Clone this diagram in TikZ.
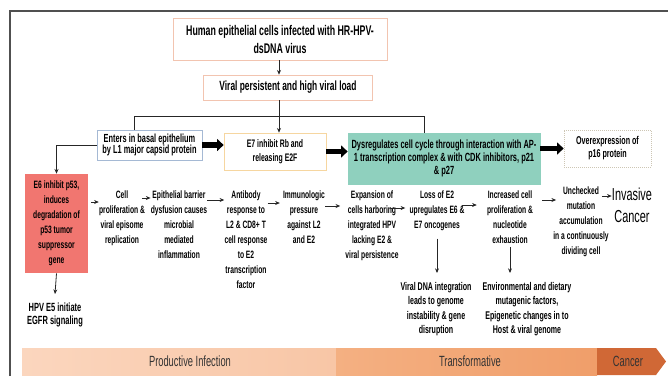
\documentclass[tikz,border=0pt]{standalone}
\usepackage{fontspec}
\setmainfont{Liberation Sans}[FakeStretch=0.63]
\usetikzlibrary{arrows.meta,calc}

\newcommand{\fs}[2]{\fontsize{#1}{#2}\selectfont}

\definecolor{humline}{RGB}{242,196,176}
\definecolor{entline}{RGB}{165,185,212}
\definecolor{eseline}{RGB}{246,214,160}
\definecolor{dysfill}{RGB}{143,208,190}
\definecolor{psline}{RGB}{205,198,180}
\definecolor{esfill}{RGB}{241,118,112}
\definecolor{prodfill}{RGB}{248,198,166}
\definecolor{prodlight}{RGB}{251,214,190}
\definecolor{tranfill}{RGB}{240,158,106}
\definecolor{tranlight}{RGB}{244,176,130}
\definecolor{cancfill}{RGB}{208,104,54}
\definecolor{framecol}{RGB}{80,80,80}

\tikzset{
	box/.style={draw, line width=0.5pt, align=center, inner sep=1pt, text=black},
	flow/.style={anchor=north, align=center, inner sep=0pt, font=\bfseries\fs{8}{11.25}},
	note/.style={anchor=north, align=center, inner sep=0pt, font=\bfseries\fs{8.4}{10.75}},
	thin arrow/.style={draw=black!85, line width=0.6pt, -{Stealth[length=3.5pt,width=3pt]}},
	fat arrow/.style={line width=4pt, -{Triangle[length=5pt,width=9pt]}},
	barlabel/.style={inner sep=0pt, font=\fs{11.1}{13}, text=black!80},
}

\begin{document}
\begin{tikzpicture}[x=0.75pt,y=0.75pt,yscale=-1,xscale=1]
	\useasboundingbox (0,0) rectangle (668,376);
	
	%Frame
	\draw [framecol, line width=1.1pt] (10,376) -- (10,11) -- (668,11) ;
	
	% Text Node
	\draw (280,39) node (hum) [box, draw=humline, minimum width=160.5pt, minimum height=31.5pt, font=\bfseries\fs{10.5}{13.5}] {Human epithelial cells infected with HR-HPV-\\dsDNA virus};
	% Text Node
	\draw (288,87.5) node (vir) [box, draw=humline, minimum width=126.75pt, minimum height=18.75pt, font=\bfseries\fs{10}{11}] {Viral persistent and high viral load};
	% Text Node
	\draw (149.5,145) node (ent) [box, draw=entline, minimum width=78.75pt, minimum height=22.5pt, font=\bfseries\fs{8.8}{8.5}] {Enters in basal epithelium\\by L1 major capsid protein};
	% Text Node
	\draw (275,151.5) node (ese) [box, draw=eseline, minimum width=76.5pt, minimum height=27.75pt, font=\bfseries\fs{8.2}{10.5}] {E7 inhibit Rb and\\releasing E2F};
	% Text Node
	\draw (444,158.5) node (dys) [box, draw=dysfill, fill=dysfill, minimum width=144pt, minimum height=38.25pt, font=\bfseries\fs{8.9}{9.75}] {Dysregulates cell cycle through interaction with AP-\\1 transcription complex \& with CDK inhibitors, p21\\\& p27};
	% Text Node
	\draw (607.5,148.5) node (psx) [box, draw=psline, densely dotted, minimum width=65.25pt, minimum height=27.75pt, font=\bfseries\fs{8.5}{9.75}] {Overexpression of\\p16 protein};
	% Text Node
	\draw (56.5,223.5) node (esx) [box, draw=none, fill=esfill, minimum width=47.25pt, minimum height=74.25pt, font=\bfseries\fs{8}{11.25}] {E6 inhibit p53,\\induces\\degradation of\\p53 tumor\\suppressor\\gene};
	% Text Node
	\draw (55,303) node (efv) [note, font=\bfseries\fs{8.9}{9.75}] {HPV E5 initiate\\EGFR signaling};
	
	% Text Node
	\draw (122,190) node (fa) [flow] {Cell\\proliferation \&\\viral episome\\replication};
	% Text Node
	\draw (179,190) node (fb) [flow] {Epithelial barrier\\dysfusion causes\\microbial\\mediated\\inflammation};
	% Text Node
	\draw (246,190) node (fc) [flow] {Antibody\\response to\\L2 \& CD8+ T\\cell response\\to E2\\transcription\\factor};
	% Text Node
	\draw (304,190) node (fd) [flow] {Immunologic\\pressure\\against L2\\and E2};
	% Text Node
	\draw (372,190) node (fe) [flow] {Expansion of\\cells harboring\\integrated HPV\\lacking E2 \&\\viral persistence};
	% Text Node
	\draw (437,190) node (ff) [flow] {Loss of E2\\upregulates E6 \&\\E7 oncogenes};
	% Text Node
	\draw (510,190) node (fg) [flow] {Increased cell\\proliferation \&\\nucleotide\\exhaustion};
	% Text Node
	\draw (581,186) node (fh) [flow] {Unchecked\\mutation\\accumulation\\in a continuously\\dividing cell};
	% Text Node
	\draw (632,188) node (inv) [anchor=north, align=center, inner sep=0pt, font=\fs{13}{16.5}] {Invasive\\Cancer};
	% Text Node
	\draw (436,282) node (vdi) [note] {Viral DNA integration\\leads to genome\\instability \& gene\\disruption};
	% Text Node
	\draw (527,282) node (env) [note] {Environmental and dietary\\mutagenic factors,\\Epigenetic changes in to\\Host \& viral genome};
	
	%Branch lines
	\coordinate (split) at (279,116);
	\coordinate (ldrop) at (134,116);
	\coordinate (rdrop) at (424,116);
	\draw [thin arrow] (hum.south -| split) -- (vir.north -| split) ;
	\draw [draw=black!85, line width=0.6pt] (vir.south -| split) -- (split) ;
	\draw [draw=black!85, line width=0.6pt] (ldrop |- ent.north) -- (ldrop) -- (rdrop) -- (rdrop |- dys.north) ;
	\draw [thin arrow] (split) -- (split |- ese.north) ;
	
	%Fat arrows
	\draw [fat arrow] (ent.east) -- (ent.east -| ese.west) ;
	\draw [fat arrow] (ese.east) -- (ese.east -| dys.west) ;
	\draw [fat arrow] (dys.east |- psx.west) -- (psx.west) ;
	
	%Side branch
	\draw [thin arrow] (ent.west) -| (esx.north) ;
	\draw [thin arrow] (esx.south) -- ($(efv.north)+(0,-9)$) ;
	
	%Flow arrows
	\coordinate (ra) at (0,202);
	\coordinate (rb) at (0,198);
	\coordinate (rc) at (0,200);
	\coordinate (rd) at (0,203);
	\coordinate (re) at (0,206);
	\coordinate (rf) at (0,208);
	\coordinate (rg) at (0,205);
	\coordinate (rh) at (0,200);
	\coordinate (ri) at (0,196);
	\draw [thin arrow] ($(esx.east |- ra)+(3,0)$) -- (fa.west |- ra) ;
	\draw [thin arrow] ($(fa.east |- rb)+(-3,0)$) -- (fb.west |- rb) ;
	\draw [thin arrow] (fb.east |- rc) -- (fc.west |- rc) ;
	\draw [thin arrow] (fc.east |- rd) -- ($(fd.west |- rd)+(-3,0)$) ;
	\draw [thin arrow] (fd.east |- re) -- ($(fe.west |- re)+(-5,0)$) ;
	\draw [thin arrow] ($(fe.east |- rf)+(-8,0)$) -- ($(ff.west |- rf)+(-4,0)$) ;
	\draw [thin arrow] ($(ff.east |- rg)+(-3,0)$) -- ($(fg.west |- rg)+(-10,0)$) ;
	\draw [thin arrow] ($(fg.east |- rh)+(9,0)$) -- ($(fh.west |- rh)+(3,0)$) ;
	\draw [thin arrow] ($(fh.east |- ri)+(-7,0)$) -- (inv.west |- ri) ;
	
	%Down arrows
	\draw [thin arrow] ($(ff.south)+(0,8)$) -- ($(ff.south |- vdi.north)+(0,-9)$) ;
	\draw [thin arrow] ($(fg.south)+(0,4)$) -- ($(fg.south |- env.north)+(0,-9)$) ;
	
	%Bottom bar
	\shade [left color=prodlight, right color=prodfill] (22,348) rectangle (336,375) ;
	\shade [left color=tranlight, right color=tranfill] (336,348) rectangle (597,375) ;
	\fill [cancfill] (597,348) -- (656,348) -- (666,361.5) -- (656,375) -- (597,375) -- cycle ;
	\draw (190,361.5) node (prod) [barlabel] {Productive Infection};
	\draw (470,361.5) node (tran) [barlabel] {Transformative};
	\draw (628,361.5) node (canc) [barlabel] {Cancer};
	
\end{tikzpicture}
\end{document}
